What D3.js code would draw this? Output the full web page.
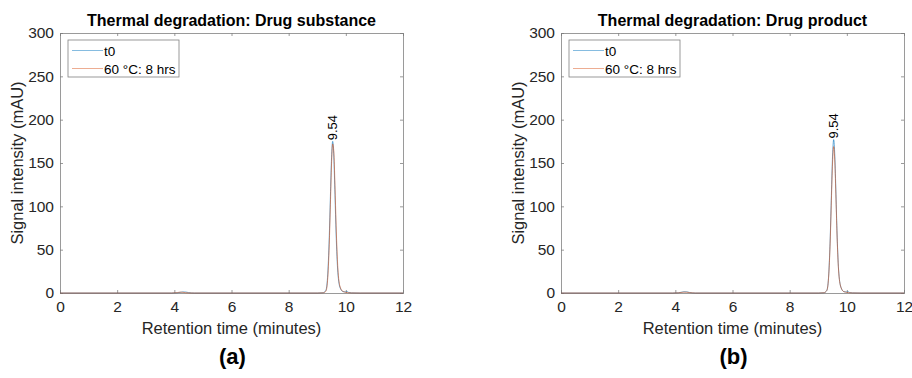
<!DOCTYPE html>
<html>
<head>
<meta charset="utf-8">
<script src="https://cdn.jsdelivr.net/npm/d3@7"></script>
<style>
  body { margin: 0; background: #fff; }
  text { font-family: "Liberation Sans", Arial, sans-serif; }
</style>
</head>
<body>
<div id="chart"></div>
<script>
// retention times (minutes) shared by every trace
var times = [0, 3.9, 4.1, 4.2, 4.3, 4.4, 4.5, 4.7, 9.0, 9.2, 9.3, 9.36, 9.42, 9.46, 9.5,
             9.54, 9.58, 9.62, 9.66, 9.72, 9.8, 9.9, 10.0, 10.05, 10.1, 10.2, 10.5, 12];

// panel (a): drug substance
var substanceT0 = [0, 0, 0.3, 0.7, 1.2, 1.1, 0.5, 0, 0, 0.3, 3, 18, 64, 111, 156,
                   175, 157, 114, 68, 24, 6, 1.6, 1.2, 1.5, 0.6, 0.2, 0, 0];
var substance60 = [0, 0, 0.4, 1.0, 0.8, 0.3, 0.1, 0, 0, 0.2, 2, 14, 56, 102, 149,
                   172, 163, 124, 78, 29, 7, 1.8, 0.8, 0.5, 0.3, 0.1, 0, 0];

// panel (b): drug product
var productT0 = [0, 0, 0.3, 0.8, 1.4, 1.3, 0.6, 0, 0, 0.3, 3, 18, 65, 113, 158,
                 177, 158, 114, 67, 23, 6, 1.5, 1.1, 1.4, 0.5, 0.2, 0, 0];
var product60 = [0, 0, 0.2, 0.6, 1.0, 0.9, 0.4, 0, 0, 0.3, 3, 17, 61, 107, 150,
                 169, 151, 109, 64, 22, 6, 1.5, 0.8, 0.5, 0.3, 0.1, 0, 0];

var peakLabel = "9.54";
var peakTime = 9.54;
var seriesNames = ["t0", "60 \u00b0C: 8 hrs"];
var colors = ["#0072BD", "#D95319"];
var xTicks = [0, 2, 4, 6, 8, 10, 12];
var yTicks = [0, 50, 100, 150, 200, 250, 300];

var panels = [
    { title: "Thermal degradation: Drug substance", tag: "(a)", left: 60, series: [substanceT0, substance60] },
    { title: "Thermal degradation: Drug product", tag: "(b)", left: 561, series: [productT0, product60] }
];

var w = 912, h = 378;
var plotW = 343, plotTop = 33, plotBottom = 293;

var svg = d3.select("#chart").append("svg")
    .attr("width", w)
    .attr("height", h);

panels.forEach(function(p) {
    var xScale = d3.scaleLinear().domain([0, 12]).range([p.left, p.left + plotW]);
    var yScale = d3.scaleLinear().domain([0, 300]).range([plotBottom, plotTop]);
    var g = svg.append("g");

    var line = d3.line()
        .x(function(d, i) { return xScale(times[i]); })
        .y(function(d) { return yScale(d); })
        .curve(d3.curveMonotoneX);

    // axes (ticks inside, box)
    var axisColor = "#808080";
    var xAxis = d3.axisBottom(xScale).tickValues(xTicks).tickSize(-3).tickPadding(7);
    var xTop = d3.axisTop(xScale).tickValues(xTicks).tickSize(-3).tickFormat("");
    var yAxis = d3.axisLeft(yScale).tickValues(yTicks).tickSize(-3).tickPadding(6);
    var yRight = d3.axisRight(yScale).tickValues(yTicks).tickSize(-3).tickFormat("");

    var gx = g.append("g").attr("transform", "translate(0," + plotBottom + ")").call(xAxis);
    var gxt = g.append("g").attr("transform", "translate(0," + plotTop + ")").call(xTop);
    var gy = g.append("g").attr("transform", "translate(" + p.left + ",0)").call(yAxis);
    var gyr = g.append("g").attr("transform", "translate(" + (p.left + plotW) + ",0)").call(yRight);

    [gx, gxt, gy, gyr].forEach(function(a) {
        a.selectAll("path").attr("stroke", axisColor).attr("stroke-width", 0.8);
        a.selectAll("line").attr("stroke", axisColor).attr("stroke-width", 0.8);
        a.selectAll("text").attr("font-size", 15.5).attr("fill", "#262626")
            .attr("font-family", "Liberation Sans, Arial, sans-serif");
    });
    gx.selectAll("text").attr("dy", "0.75em");

    // traces (drawn over the axes)
    p.series.forEach(function(s, k) {
        g.append("path")
            .datum(s)
            .attr("d", line)
            .attr("fill", "none")
            .attr("stroke", colors[k])
            .attr("stroke-opacity", 0.75)
            .attr("stroke-width", 0.8);
    });

    // peak label
    var peakY = yScale(d3.max(p.series[0]));
    g.append("text")
        .attr("transform", "translate(" + (xScale(peakTime) + 4.5) + "," + (peakY - 1) + ") rotate(-90)")
        .attr("font-size", 13)
        .attr("fill", "#000")
        .text(peakLabel);

    // title
    g.append("text")
        .attr("x", p.left + plotW / 2)
        .attr("y", 26)
        .attr("text-anchor", "middle")
        .attr("font-size", 16)
        .attr("font-weight", "bold")
        .attr("fill", "#000")
        .text(p.title);

    // axis labels
    g.append("text")
        .attr("x", p.left + plotW / 2)
        .attr("y", 334)
        .attr("text-anchor", "middle")
        .attr("font-size", 16.5)
        .attr("fill", "#262626")
        .text("Retention time (minutes)");

    g.append("text")
        .attr("transform", "translate(" + (p.left - 37) + "," + ((plotTop + plotBottom) / 2) + ") rotate(-90)")
        .attr("text-anchor", "middle")
        .attr("font-size", 16.5)
        .attr("fill", "#262626")
        .text("Signal intensity (mAU)");

    // legend
    var lg = g.append("g").attr("transform", "translate(" + (p.left + 8) + ",40)");
    lg.append("rect")
        .attr("width", 111).attr("height", 37)
        .attr("fill", "#fff")
        .attr("stroke", "#808080")
        .attr("stroke-width", 0.8);
    seriesNames.forEach(function(name, k) {
        var yy = 10.5 + k * 18;
        lg.append("line")
            .attr("x1", 4).attr("x2", 35)
            .attr("y1", yy).attr("y2", yy)
            .attr("stroke", colors[k])
            .attr("stroke-opacity", 0.6)
            .attr("stroke-width", 0.8);
        lg.append("text")
            .attr("x", 36).attr("y", yy + 5)
            .attr("font-size", 13.5)
            .attr("fill", "#000")
            .text(name);
    });

    // panel tag
    g.append("text")
        .attr("x", p.left + plotW / 2 + 1)
        .attr("y", 364)
        .attr("text-anchor", "middle")
        .attr("font-size", 22)
        .attr("font-weight", "bold")
        .attr("font-family", "Liberation Serif, serif")
        .attr("fill", "#000")
        .text(p.tag);
});
</script>
</body>
</html>
